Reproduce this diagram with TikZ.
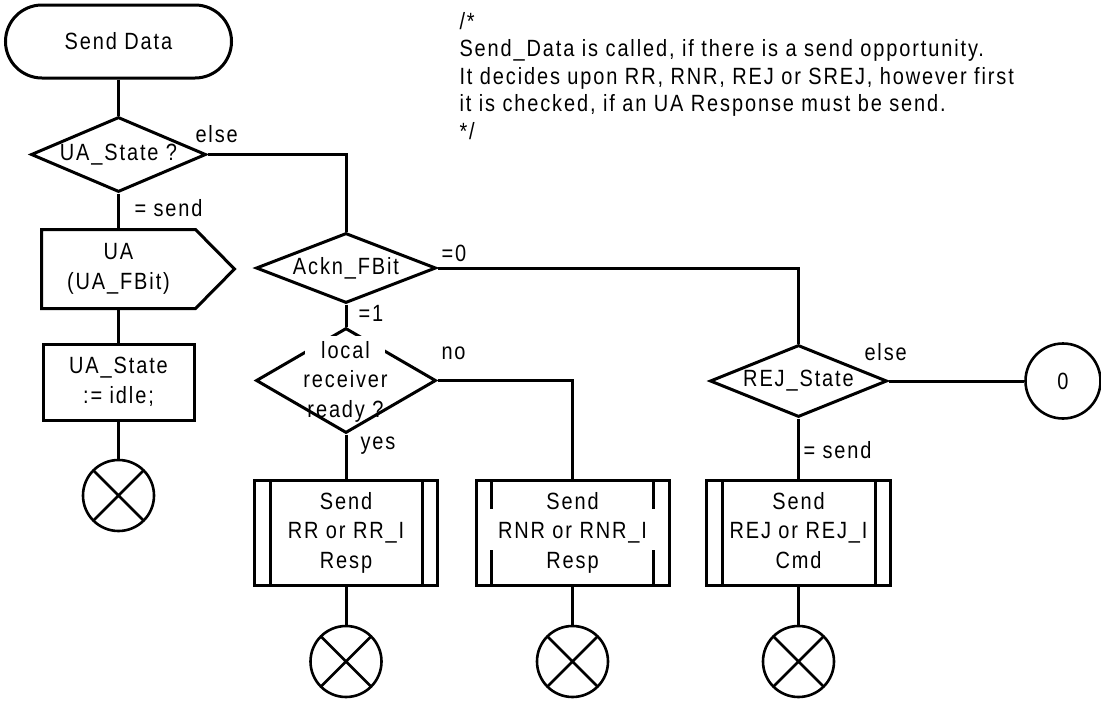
\documentclass[tikz,border=0pt]{standalone}
\usepackage{fontspec}
\setmainfont{Liberation Sans}[FakeStretch=0.85,LetterSpace=8]
\usetikzlibrary{shapes.geometric,shapes.misc}
\begin{document}
\begin{tikzpicture}[x=1pt,y=-1pt,line width=3pt,
  every node/.style={font=\fontsize{23.5}{29.5}\selectfont,inner sep=0pt},
  termbox/.style={rounded rectangle,draw,minimum width=226,minimum height=73},
  decbox/.style={diamond,draw,inner sep=0pt,aspect=2.5},
  taskbox/.style={rectangle,draw,minimum width=151,minimum height=76,align=center},
  procbox/.style={rectangle,draw,minimum width=#1,minimum height=105,align=center,
    path picture={\draw[line width=3pt]
      ([xshift=15.5pt]path picture bounding box.north west) -- ([xshift=15.5pt]path picture bounding box.south west)
      ([xshift=-15.5pt]path picture bounding box.north east) -- ([xshift=-15.5pt]path picture bounding box.south east);}},
  endbox/.style={circle,draw,line width=2.6pt,minimum size=71,
    path picture={\draw[line width=2.6pt]
      (path picture bounding box.north west) -- (path picture bounding box.south east)
      (path picture bounding box.north east) -- (path picture bounding box.south west);}},
  conbox/.style={circle,draw,line width=2.6pt,minimum size=75},
  lbl/.style={anchor=base west},
  maskbox/.style={fill=white,draw=none}
]
\useasboundingbox (0,0) rectangle (1101,702);

% left column
\node[termbox] (start) at (118.5,41.5) {Send Data};
\node[decbox,minimum width=175,minimum height=75] (d1) at (118.5,154.5) {UA\_State ?};
\node[rectangle,minimum width=151,minimum height=76,align=center] (ua) at (118.5,269) {UA\\(UA\_FBit)};
\draw (ua.north west) -- (ua.north east) -- ([xshift=39pt]ua.east) -- (ua.south east) -- (ua.south west) -- cycle;
\node[taskbox] (task) at (118.5,382) {UA\_State\\:= idle;};
\node[endbox] (e1) at (118.5,495.5) {};

% middle
\node[decbox,minimum width=180,minimum height=70] (d2) at (346,268) {Ackn\_FBit};
\node[decbox,minimum width=180,minimum height=105] (d3) at (346,380.5) {};
\node[maskbox,minimum width=80,minimum height=64] (d3mask) at (345,368) {};
\node[align=center] (d3t) at (345.5,381.5) {local\\receiver\\ready ?};

\node[procbox=183] (p1) at (346,532.5) {Send\\RR or RR\_I\\Resp};
\node[procbox=193] (p2) at (572.5,532.5) {};
\node[maskbox,minimum width=168,minimum height=41] (p2mask) at (572.5,529.5) {};
\node[align=center] (p2t) at (572.5,532.5) {Send\\RNR or RNR\_I\\Resp};
\node[procbox=184] (p3) at (798.5,532.5) {Send\\REJ or REJ\_I\\Cmd\vphantom{p}};

\node[endbox] (e2) at (346,661.5) {};
\node[endbox] (e3) at (572.5,661.5) {};
\node[endbox] (e4) at (798.5,661.5) {};

% right
\node[decbox,minimum width=177,minimum height=72] (d4) at (798.5,381) {REJ\_State};
\node[conbox] (c0) at (1063,381) {0};

% comment
\node[anchor=north west,align=left,font=\fontsize{23.5}{27.5}\selectfont] (cmt) at (458,7.5)
  {\rule{0pt}{20pt}/*\\Send\_Data is called, if there is a send opportunity.\\It decides upon RR, RNR, REJ or SREJ, however first\\it is checked, if an UA Response must be send.\\{}*/};

% connectors
\draw (start.south) -- (d1.north);
\draw (d1.south) -- (ua.north);
\draw (ua.south) -- (task.north);
\draw (task.south) -- (e1.north);
\draw (d1.east) -| (d2.north);
\draw (d2.east) -| (d4.north);
\draw (d2.south) -- (d3.north);
\draw (d3.east) -| (p2.north);
\draw (d3.south) -- (p1.north);
\draw (p1.south) -- (e2.north);
\draw (p2.south) -- (e3.north);
\draw (d4.south) -- (p3.north);
\draw (p3.south) -- (e4.north);
\draw (d4.east) -- (c0.west);

% labels
\node[lbl] (l1) at (194,142) {else};
\node[lbl] (l2) at (133,216.5) {= send};
\node[lbl] (l3) at (440,261.5) {=0};
\node[lbl] (l4) at (357,321.5) {=1};
\node[lbl] (l5) at (440,359) {no};
\node[lbl] (l6) at (359,449.5) {yes};
\node[lbl] (l7) at (863,360) {else};
\node[lbl] (l8) at (802,458) {= send};
\end{tikzpicture}
\end{document}
